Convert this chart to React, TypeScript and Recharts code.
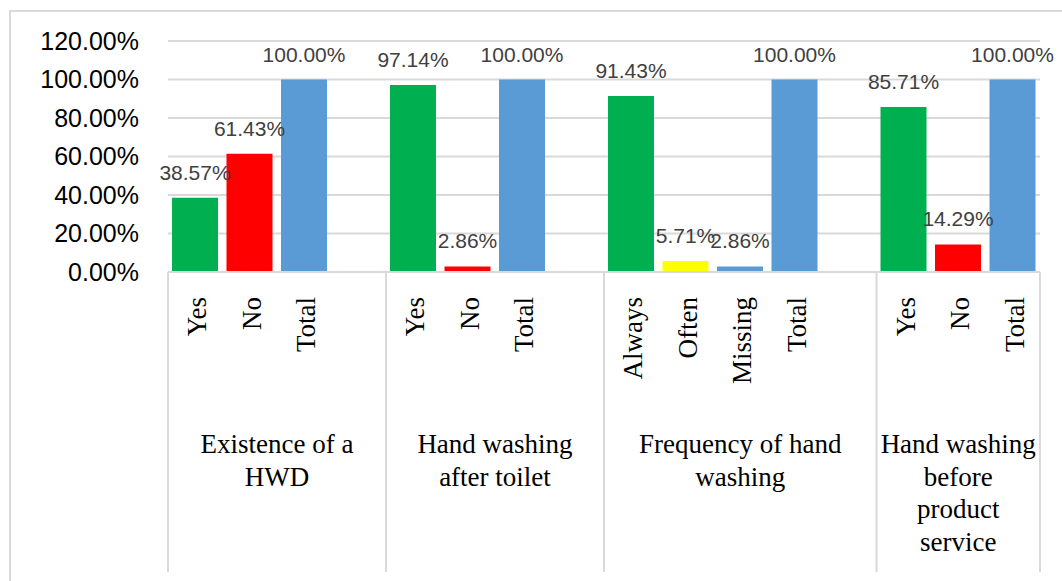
import { BarChart, Bar, XAxis, YAxis, CartesianGrid, Cell, LabelList } from "recharts";

// one slot per category; empty strings are the blank spacer columns in the original sheet
const categories = ["Yes", "No", "Total", "", "Yes", "No", "Total", "", "Always", "Often", "Missing", "Total", "", "Yes", "No", "Total"];
const values = [38.57, 61.43, 100, null, 97.14, 2.86, 100, null, 91.43, 5.71, 2.86, 100, null, 85.71, 14.29, 100];
const groupLabels = [
  ["Existence of a", "HWD"],
  ["Hand washing", "after toilet"],
  ["Frequency of hand", "washing"],
  ["Hand washing", "before", "product", "service"],
];
const groupSizes = [4, 4, 5, 3];
const yTicks = [0, 20, 40, 60, 80, 100, 120];

const GREEN = "#00B050";
const RED = "#FF0000";
const BLUE = "#5B9BD5";
const YELLOW = "#FFFF00";
const barColors = [GREEN, RED, BLUE, BLUE, GREEN, RED, BLUE, BLUE, GREEN, YELLOW, BLUE, BLUE, BLUE, GREEN, RED, BLUE];

const data = categories.map((c, i) => ({ id: i, name: c, value: values[i] }));

const W = 1062;
const H = 581;
const PLOT_LEFT = 168;
const PLOT_RIGHT = 1040;
const SLOT = (PLOT_RIGHT - PLOT_LEFT) / categories.length;
const GRID = "#d9d9d9";
const SERIF = "'Liberation Serif', 'Times New Roman', serif";
const SANS = "'Liberation Sans', Arial, sans-serif";

const groupStarts = groupSizes.map((_, g) => groupSizes.slice(0, g).reduce((a, b) => a + b, 0));

function CategoryTick(props: any) {
  const { x, y, payload } = props;
  const i = payload.value as number;
  const label = categories[i];
  const tx = x + 11;
  const ty = y + 25;
  const g = groupStarts.indexOf(i);
  const left = x - SLOT / 2;
  return (
    <g>
      {label && (
        <text
          x={tx}
          y={ty}
          transform={`rotate(-90, ${tx}, ${ty})`}
          textAnchor="end"
          fontFamily={SERIF}
          fontSize={27}
          fill="#000"
        >
          {label}
        </text>
      )}
      {g >= 0 && (
        <>
          <line x1={left} y1={y} x2={left} y2={572} stroke={GRID} strokeWidth={2} />
          <text
            x={left + (groupSizes[g] * SLOT) / 2}
            y={453}
            textAnchor="middle"
            fontFamily={SERIF}
            fontSize={27}
            fill="#000"
          >
            {groupLabels[g].map((line, k) => (
              <tspan key={k} x={left + (groupSizes[g] * SLOT) / 2} dy={k === 0 ? 0 : 32.5}>
                {line}
              </tspan>
            ))}
          </text>
        </>
      )}
      {i === categories.length - 1 && (
        <line x1={x + SLOT / 2} y1={y} x2={x + SLOT / 2} y2={572} stroke={GRID} strokeWidth={2} />
      )}
    </g>
  );
}

export default function App() {
  return (
    <div style={{ position: "relative", width: W, height: H, background: "#fff" }}>
      <style>{`body{margin:0}`}</style>
      <div
        style={{
          position: "absolute",
          left: 9,
          top: 10,
          width: W - 9,
          height: H - 10,
          borderTop: `2px solid ${GRID}`,
          borderLeft: `2px solid ${GRID}`,
          boxSizing: "border-box",
        }}
      />
      <div style={{ position: "absolute", left: 0, top: 0 }}>
        <BarChart
          width={W}
          height={H}
          data={data}
          margin={{ top: 41, right: W - PLOT_RIGHT, bottom: 0, left: 0 }}
          barSize={46}
          barCategoryGap={0}
        >
          <CartesianGrid vertical={false} stroke={GRID} strokeWidth={2} />
          <XAxis
            dataKey="id"
            type="category"
            interval={0}
            height={309}
            tickLine={false}
            tickSize={0}
            tickMargin={0}
            axisLine={{ stroke: GRID, strokeWidth: 2 }}
            tick={(p: any) => <CategoryTick {...p} />}
          />
          <YAxis
            width={PLOT_LEFT}
            domain={[0, 120]}
            ticks={yTicks}
            axisLine={false}
            tickLine={false}
            tickSize={0}
            tickMargin={29}
            tick={{ fill: "#000", fontSize: 25, fontFamily: SANS }}
            tickFormatter={(v: number) => `${v.toFixed(2)}%`}
          />
          <Bar dataKey="value" isAnimationActive={false}>
            {data.map((d, i) => (
              <Cell key={i} fill={barColors[i]} />
            ))}
            <LabelList
              dataKey="value"
              position="top"
              offset={18}
              fill="#404040"
              fontSize={21}
              fontFamily={SANS}
              formatter={(v: any) => (v == null ? "" : `${Number(v).toFixed(2)}%`)}
            />
          </Bar>
        </BarChart>
      </div>
    </div>
  );
}
